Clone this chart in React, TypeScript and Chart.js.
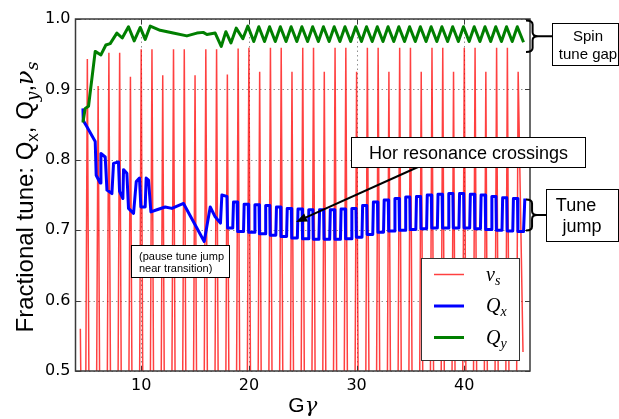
import React, { useEffect, useRef } from "react";
import { Chart, registerables } from "chart.js";

Chart.register(...registerables);

const xTicks = [10, 20, 30, 40];
const yTicks = [0.5, 0.6, 0.7, 0.8, 0.9, 1.0];
const xMin = 3.9;
const xMax = 46.1;

// spin tune nu_s (sampled, spikes at integer G*gamma)
const nuGamma = [
  4.35, 4.7,
  5, 5.3, 5.7, 6, 6.3, 6.7, 7, 7.3, 7.7, 8, 8.3, 8.7, 9, 9.3, 9.7,
  10, 10.3, 10.7, 11, 11.3, 11.7, 12, 12.3, 12.7, 13, 13.3, 13.7, 14, 14.3, 14.7,
  15, 15.3, 15.7, 16, 16.3, 16.7, 17, 17.3, 17.7, 18, 18.3, 18.7, 19, 19.3, 19.7,
  20, 20.3, 20.7, 21, 21.3, 21.7, 22, 22.3, 22.7, 23, 23.3, 23.7, 24, 24.3, 24.7,
  25, 25.3, 25.7, 26, 26.3, 26.7, 27, 27.3, 27.7, 28, 28.3, 28.7, 29, 29.3, 29.7,
  30, 30.3, 30.7, 31, 31.3, 31.7, 32, 32.3, 32.7, 33, 33.3, 33.7, 34, 34.3, 34.7,
  35, 35.3, 35.7, 36, 36.3, 36.7, 37, 37.3, 37.7, 38, 38.3, 38.7, 39, 39.3, 39.7,
  40, 40.3, 40.7, 41, 41.3, 41.7, 42, 42.3, 42.7, 43, 43.3, 43.7, 44, 44.3, 44.7,
  45, 45.45,
];
const nuTune = [
  0.56, 0,
  0.943, 0, 0, 0.905, 0, 0, 0.952, 0, 0, 0.952, 0, 0, 0.918, 0, 0,
  0.957, 0, 0, 0.957, 0, 0, 0.92, 0, 0, 0.957, 0, 0, 0.957, 0, 0,
  0.92, 0, 0, 0.957, 0, 0, 0.957, 0, 0, 0.921, 0, 0, 0.958, 0, 0,
  0.959, 0, 0, 0.925, 0, 0, 0.959, 0, 0, 0.959, 0, 0, 0.925, 0, 0,
  0.959, 0, 0, 0.959, 0, 0, 0.925, 0, 0, 0.959, 0, 0, 0.959, 0, 0,
  0.925, 0, 0, 0.959, 0, 0, 0.959, 0, 0, 0.925, 0, 0, 0.959, 0, 0,
  0.959, 0, 0, 0.925, 0, 0, 0.959, 0, 0, 0.959, 0, 0, 0.925, 0, 0,
  0.959, 0, 0, 0.959, 0, 0, 0.925, 0, 0, 0.959, 0, 0, 0.959, 0, 0,
  0.925, 0.527,
];

// horizontal tune Q_x
const qxGamma = [
  4.59, 4.62, 4.96, 5.73, 5.82, 6.19, 6.26, 6.66, 6.82, 7.28, 7.43, 7.89, 7.99, 8.3, 8.36,
  8.67, 8.82, 9.29, 9.54, 9.84, 9.97, 10.37, 10.46, 10.68, 10.9, 11.46, 12.23, 12.85, 13.93,
  15.85, 16.41, 16.87, 17.36, 17.49, 17.96, 18.02, 18.5, 18.57, 18.9,
  18.96, 19.5, 19.56, 19.94,
  19.98, 20.5, 20.56, 20.94,
  20.98, 21.5, 21.56, 21.94,
  21.98, 22.5, 22.56, 22.94,
  22.98, 23.5, 23.56, 23.94,
  23.98, 24.5, 24.56, 24.94,
  24.98, 25.5, 25.56, 25.94,
  25.98, 26.5, 26.56, 26.94,
  26.98, 27.5, 27.56, 27.94,
  27.98, 28.5, 28.56, 28.94,
  28.98, 29.5, 29.56, 29.94,
  29.98, 30.5, 30.56, 30.94,
  30.98, 31.5, 31.56, 31.94,
  31.98, 32.5, 32.56, 32.94,
  32.98, 33.5, 33.56, 33.94,
  33.98, 34.5, 34.56, 34.94,
  34.98, 35.5, 35.56, 35.94,
  35.98, 36.5, 36.56, 36.94,
  36.98, 37.5, 37.56, 37.94,
  37.98, 38.5, 38.56, 38.94,
  38.98, 39.5, 39.56, 39.94,
  39.98, 40.5, 40.56, 40.94,
  40.98, 41.5, 41.56, 41.94,
  41.98, 42.5, 42.56, 42.94,
  42.98, 43.5, 43.56, 43.94,
  43.98, 44.5, 44.56, 44.94,
  44.98, 45.5, 45.62,
];
const qxTune = [
  0.873, 0.856, 0.847, 0.826, 0.778, 0.767, 0.809, 0.804, 0.757, 0.752, 0.795, 0.797, 0.755, 0.745, 0.786,
  0.781, 0.731, 0.724, 0.769, 0.774, 0.733, 0.733, 0.774, 0.771, 0.726, 0.729, 0.733, 0.731, 0.738,
  0.684, 0.733, 0.719, 0.71, 0.75, 0.748, 0.703, 0.703, 0.74, 0.74,
  0.698, 0.698, 0.737, 0.737,
  0.697, 0.697, 0.736, 0.736,
  0.695, 0.695, 0.735, 0.735,
  0.693, 0.693, 0.733, 0.733,
  0.691, 0.691, 0.731, 0.731,
  0.689, 0.689, 0.73, 0.73,
  0.688, 0.688, 0.729, 0.729,
  0.687, 0.687, 0.729, 0.729,
  0.687, 0.687, 0.729, 0.729,
  0.687, 0.687, 0.73, 0.73,
  0.688, 0.688, 0.731, 0.731,
  0.69, 0.69, 0.735, 0.735,
  0.694, 0.694, 0.74, 0.74,
  0.697, 0.697, 0.743, 0.743,
  0.699, 0.699, 0.745, 0.745,
  0.7, 0.7, 0.747, 0.747,
  0.701, 0.701, 0.748, 0.748,
  0.702, 0.702, 0.75, 0.75,
  0.703, 0.703, 0.751, 0.751,
  0.703, 0.703, 0.752, 0.752,
  0.703, 0.703, 0.752, 0.752,
  0.703, 0.703, 0.751, 0.751,
  0.702, 0.702, 0.75, 0.75,
  0.701, 0.701, 0.748, 0.748,
  0.7, 0.7, 0.746, 0.746,
  0.699, 0.699, 0.745, 0.745,
  0.698, 0.698, 0.745,
];

// vertical tune Q_y
const qyGamma = [
  4.59, 4.8, 5.11, 5.73, 6.26, 6.72, 7.12, 7.74, 8.24, 8.82, 9.35, 9.91, 10.37, 10.84,
  11.76, 12.97, 14.24, 15.17, 15.76, 16.1, 16.87, 17.43, 17.86, 18.33, 18.82, 19.44, 19.9,
  20.45, 20.92, 21.45, 21.92, 22.45, 22.92, 23.45, 23.92, 24.45, 24.92, 25.45, 25.92,
  26.45, 26.92, 27.45, 27.92, 28.45, 28.92, 29.45, 29.92, 30.45, 30.92, 31.45, 31.92,
  32.45, 32.92, 33.45, 33.92, 34.45, 34.92, 35.45, 35.92, 36.45, 36.92, 37.45, 37.92,
  38.45, 38.92, 39.45, 39.92, 40.45, 40.92, 41.45, 41.92, 42.45, 42.92, 43.45, 43.92,
  44.45, 44.92, 45.5,
];
const qyTune = [
  0.853, 0.873, 0.876, 0.954, 0.949, 0.963, 0.965, 0.98, 0.973, 0.989, 0.969, 0.988, 0.971, 0.99,
  0.984, 0.98, 0.976, 0.98, 0.981, 0.978, 0.98, 0.961, 0.982, 0.966, 0.987, 0.972, 0.99,
  0.968, 0.989, 0.968, 0.989, 0.968, 0.989, 0.968, 0.989, 0.968, 0.989, 0.968, 0.989,
  0.968, 0.989, 0.968, 0.989, 0.968, 0.989, 0.968, 0.989, 0.968, 0.989, 0.968, 0.989,
  0.968, 0.989, 0.968, 0.989, 0.968, 0.989, 0.968, 0.989, 0.968, 0.989, 0.968, 0.989,
  0.968, 0.989, 0.968, 0.989, 0.968, 0.989, 0.968, 0.989, 0.968, 0.989, 0.968, 0.989,
  0.968, 0.989, 0.967,
];

const seriesColors = ["rgba(255,0,0,0.75)", "#0000ff", "#007f00"];
const seriesWidths = [1.5, 3, 3];
const legendMain = ["ν", "Q", "Q"];
const legendSub = ["s", "x", "y"];

type Run = { t: string; f: string; dy?: number };

function drawRuns(ctx: CanvasRenderingContext2D, runs: Run[], x: number, y: number, align: "left" | "center") {
  let total = 0;
  for (const r of runs) {
    ctx.font = r.f;
    total += ctx.measureText(r.t).width;
  }
  let cx = align === "center" ? x - total / 2 : x;
  ctx.textAlign = "left";
  ctx.textBaseline = "alphabetic";
  for (const r of runs) {
    ctx.font = r.f;
    ctx.fillText(r.t, cx, y + (r.dy || 0));
    cx += ctx.measureText(r.t).width;
  }
}

function brace(ctx: CanvasRenderingContext2D, x0: number, yTop: number, yBot: number, w: number) {
  const mid = (yTop + yBot) / 2;
  const xm = x0 + w * 0.55;
  ctx.beginPath();
  ctx.moveTo(x0, yTop);
  ctx.quadraticCurveTo(xm, yTop, xm, yTop + 4);
  ctx.lineTo(xm, mid - 4);
  ctx.quadraticCurveTo(xm, mid, x0 + w, mid);
  ctx.quadraticCurveTo(xm, mid, xm, mid + 4);
  ctx.lineTo(xm, yBot - 4);
  ctx.quadraticCurveTo(xm, yBot, x0, yBot);
  ctx.stroke();
}

function textBox(ctx: CanvasRenderingContext2D, x: number, y: number, w: number, h: number) {
  ctx.fillStyle = "#fff";
  ctx.fillRect(x, y, w, h);
  ctx.strokeStyle = "#000";
  ctx.lineWidth = 1;
  ctx.strokeRect(x, y, w, h);
}

const overlayPlugin = {
  id: "overlay",
  beforeDatasetsDraw(chart: any) {
    const { ctx, chartArea: a, scales } = chart;
    const xs = scales.x;
    const ys = scales.y;
    ctx.save();
    ctx.strokeStyle = "rgba(70,70,70,0.6)";
    ctx.lineWidth = 1;
    ctx.setLineDash([1.5, 3]);
    for (const v of xTicks) {
      const px = Math.round(xs.getPixelForValue(v)) + 0.5;
      ctx.beginPath();
      ctx.moveTo(px, a.top);
      ctx.lineTo(px, a.bottom);
      ctx.stroke();
    }
    for (const v of yTicks) {
      const py = Math.round(ys.getPixelForValue(v)) + 0.5;
      ctx.beginPath();
      ctx.moveTo(a.left, py);
      ctx.lineTo(a.right, py);
      ctx.stroke();
    }
    ctx.restore();
  },
  afterDraw(chart: any) {
    const { ctx, chartArea: a, scales } = chart;
    const xs = scales.x;
    const ys = scales.y;
    ctx.save();
    // frame
    ctx.strokeStyle = "#3a3a3a";
    ctx.lineWidth = 1.5;
    ctx.strokeRect(a.left, a.top, a.right - a.left, a.bottom - a.top);
    // inward ticks
    ctx.lineWidth = 1;
    ctx.beginPath();
    for (const v of xTicks) {
      const px = Math.round(xs.getPixelForValue(v)) + 0.5;
      ctx.moveTo(px, a.bottom);
      ctx.lineTo(px, a.bottom - 5);
      ctx.moveTo(px, a.top);
      ctx.lineTo(px, a.top + 5);
    }
    for (const v of yTicks) {
      const py = Math.round(ys.getPixelForValue(v)) + 0.5;
      ctx.moveTo(a.left, py);
      ctx.lineTo(a.left + 5, py);
      ctx.moveTo(a.right, py);
      ctx.lineTo(a.right - 5, py);
    }
    ctx.stroke();

    // legend
    textBox(ctx, 421.5, 258.5, 98, 102);
    ctx.strokeStyle = "#333";
    ctx.strokeRect(421.5, 258.5, 98, 102);
    const rows = [274.5, 306, 337.5];
    for (let i = 0; i < 3; i++) {
      ctx.strokeStyle = seriesColors[i];
      ctx.lineWidth = seriesWidths[i];
      ctx.beginPath();
      ctx.moveTo(434, rows[i]);
      ctx.lineTo(464, rows[i]);
      ctx.stroke();
      ctx.fillStyle = "#000";
      drawRuns(
        ctx,
        [
          { t: legendMain[i], f: 'italic 20px "Liberation Serif"' },
          { t: legendSub[i], f: 'italic 14px "Liberation Serif"', dy: 4 },
        ],
        486,
        rows[i] + 6,
        "left"
      );
    }

    // axis titles
    ctx.fillStyle = "#000";
    drawRuns(
      ctx,
      [
        { t: "G", f: '21px "Liberation Sans"' },
        { t: "γ", f: 'italic 21px "DejaVu Serif"' },
      ],
      (a.left + a.right) / 2,
      412,
      "center"
    );
    ctx.save();
    ctx.translate(33, 197);
    ctx.rotate(-Math.PI / 2);
    drawRuns(
      ctx,
      [
        { t: "Fractional tune: Q", f: '24px "Liberation Sans"' },
        { t: "x", f: '17px "Liberation Sans"', dy: 5 },
        { t: ", Q", f: '24px "Liberation Sans"' },
        { t: "y", f: 'italic 17px "DejaVu Serif"', dy: 5 },
        { t: ",", f: '24px "Liberation Sans"' },
        { t: "ν", f: 'italic 24px "DejaVu Serif"' },
        { t: "s", f: 'italic 17px "DejaVu Serif"', dy: 5 },
      ],
      0,
      0,
      "center"
    );
    ctx.restore();

    // annotation: spin tune gap
    ctx.strokeStyle = "#000";
    ctx.lineWidth = 2;
    brace(ctx, 526, 20.5, 52, 12);
    ctx.beginPath();
    ctx.moveTo(538, 36.25);
    ctx.lineTo(553, 36.25);
    ctx.stroke();
    textBox(ctx, 552.5, 23.5, 66, 42);
    ctx.fillStyle = "#000";
    ctx.font = '15px "Liberation Sans"';
    ctx.textAlign = "center";
    ctx.fillText("Spin", 588, 41);
    ctx.fillText("tune gap", 588, 58.5);

    // annotation: tune jump
    ctx.strokeStyle = "#000";
    ctx.lineWidth = 2;
    brace(ctx, 526, 199.5, 230.5, 11);
    ctx.beginPath();
    ctx.moveTo(537, 215);
    ctx.lineTo(547, 215);
    ctx.stroke();
    textBox(ctx, 546.5, 189.5, 72, 52);
    ctx.fillStyle = "#000";
    ctx.font = '18px "Liberation Sans"';
    ctx.textAlign = "center";
    ctx.fillText("Tune", 576, 211);
    ctx.fillText("jump", 582, 231.5);

    // annotation: resonance crossings with arrow
    ctx.strokeStyle = "#000";
    ctx.lineWidth = 2;
    const tipX = 296, tipY = 222, tailX = 418, tailY = 167;
    const ang = Math.atan2(tipY - tailY, tipX - tailX);
    ctx.beginPath();
    ctx.moveTo(tailX, tailY);
    ctx.lineTo(tipX - 8 * Math.cos(ang), tipY - 8 * Math.sin(ang));
    ctx.stroke();
    ctx.fillStyle = "#000";
    ctx.beginPath();
    ctx.moveTo(tipX, tipY);
    ctx.lineTo(tipX - 11 * Math.cos(ang) + 4.5 * Math.sin(ang), tipY - 11 * Math.sin(ang) - 4.5 * Math.cos(ang));
    ctx.lineTo(tipX - 11 * Math.cos(ang) - 4.5 * Math.sin(ang), tipY - 11 * Math.sin(ang) + 4.5 * Math.cos(ang));
    ctx.closePath();
    ctx.fill();
    textBox(ctx, 351.5, 137.5, 234, 30);
    ctx.fillStyle = "#000";
    ctx.font = '18px "Liberation Sans"';
    ctx.textAlign = "center";
    ctx.fillText("Hor resonance crossings", 468.5, 159);

    // annotation: pause note
    textBox(ctx, 131.5, 245.5, 98, 32);
    ctx.fillStyle = "#000";
    ctx.font = '11px "Liberation Sans"';
    ctx.textAlign = "left";
    ctx.fillText("(pause tune jump", 139, 259.5);
    ctx.fillText("near transition)", 139, 272);
    ctx.restore();
  },
};

function pts(xs: number[], ys: number[]) {
  return xs.map((x, i) => ({ x, y: ys[i] }));
}

export default function App() {
  const ref = useRef<HTMLCanvasElement | null>(null);
  useEffect(() => {
    if (!ref.current) return;
    const tickFont = { family: "DejaVu Sans", size: 16 };
    const chart = new Chart(ref.current, {
      type: "line",
      data: {
        datasets: [
          {
            label: "nu_s",
            data: pts(nuGamma, nuTune),
            borderColor: seriesColors[0],
            borderWidth: seriesWidths[0],
            pointRadius: 0,
            tension: 0,
            order: 3,
            clip: 0,
          },
          {
            label: "Q_x",
            data: pts(qxGamma, qxTune),
            borderColor: seriesColors[1],
            borderWidth: seriesWidths[1],
            pointRadius: 0,
            tension: 0,
            order: 2,
            clip: 0,
            borderJoinStyle: "round",
          },
          {
            label: "Q_y",
            data: pts(qyGamma, qyTune),
            borderColor: seriesColors[2],
            borderWidth: seriesWidths[2],
            pointRadius: 0,
            tension: 0,
            order: 1,
            clip: 0,
            borderJoinStyle: "round",
          },
        ],
      } as any,
      options: {
        responsive: true,
        maintainAspectRatio: false,
        animation: false,
        events: [],
        layout: { padding: { left: 0, top: 19, right: 89, bottom: 0 } },
        plugins: { legend: { display: false }, tooltip: { enabled: false } },
        scales: {
          x: {
            type: "linear",
            min: xMin,
            max: xMax,
            afterBuildTicks: (s: any) => {
              s.ticks = xTicks.map((v) => ({ value: v }));
            },
            afterFit: (s: any) => {
              s.height = 48;
            },
            ticks: { font: tickFont, color: "#000", padding: 5, maxRotation: 0, autoSkip: false },
            grid: { display: false, drawTicks: false },
            border: { display: false },
          },
          y: {
            type: "linear",
            min: 0.5,
            max: 1.0,
            afterBuildTicks: (s: any) => {
              s.ticks = yTicks.map((v) => ({ value: v }));
            },
            afterFit: (s: any) => {
              s.width = 75.5;
            },
            ticks: {
              font: tickFont,
              color: "#000",
              padding: 5,
              autoSkip: false,
              callback: (v: any) => Number(v).toFixed(1),
            },
            grid: { display: false, drawTicks: false },
            border: { display: false },
          },
        },
      } as any,
      plugins: [overlayPlugin],
    });
    return () => chart.destroy();
  }, []);
  return (
    <div style={{ position: "fixed", left: 0, top: 0, width: 619, height: 419, background: "#fff" }}>
      <canvas ref={ref} />
    </div>
  );
}
